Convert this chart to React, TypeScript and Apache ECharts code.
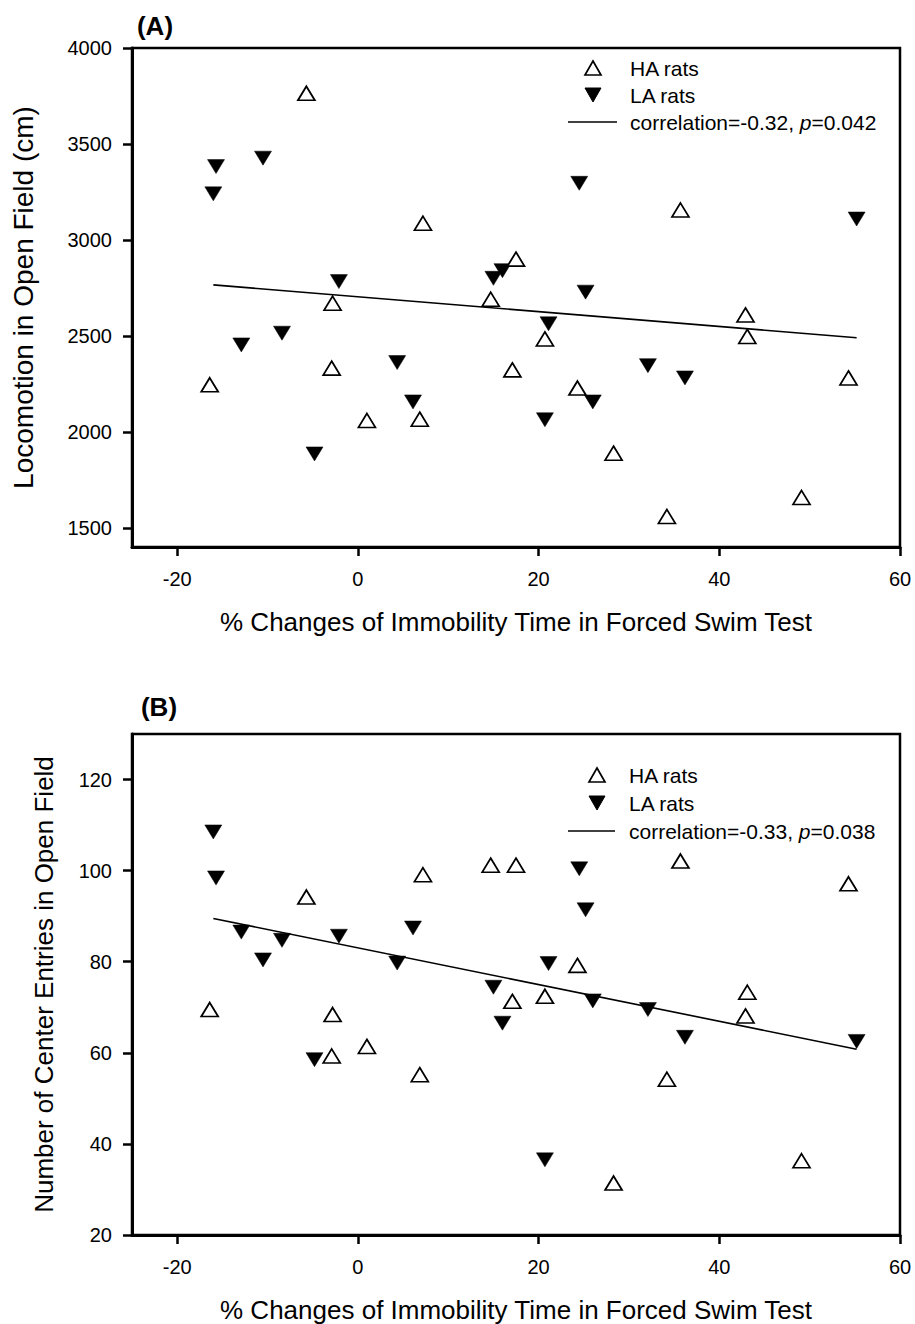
import React, { useEffect, useRef } from "react";
import * as echarts from "echarts";

// ---- Data ----
const haX = [-16.4, -5.7, -2.8, -2.9, 1.0, 6.85, 7.2, 14.7, 17.1, 17.5, 20.7, 24.3, 28.3, 34.2, 35.7, 42.9, 43.1, 49.1, 54.3];
const haLocomotion = [2245, 3764, 2670, 2332, 2059, 2066, 3087, 2691, 2323, 2900, 2484, 2228, 1889, 1559, 3156, 2609, 2497, 1658, 2281];
const haEntries = [69.5, 94.2, 68.4, 59.3, 61.4, 55.2, 99.1, 101.2, 71.3, 101.2, 72.4, 79.2, 31.4, 54.2, 102.1, 68.1, 73.3, 36.3, 97.1];

const laX = [-15.7, -16.0, -12.9, -10.5, -8.4, -4.8, -2.1, 4.35, 6.1, 15.0, 16.0, 20.7, 21.1, 24.5, 25.2, 26.0, 32.1, 36.2, 55.2];
const laLocomotion = [3382, 3240, 2453, 3426, 2514, 1885, 2783, 2361, 2156, 2800, 2840, 2063, 2563, 3295, 2728, 2156, 2345, 2281, 3109];
const laEntries = [98.4, 108.5, 86.5, 80.4, 84.7, 58.5, 85.6, 79.7, 87.4, 74.4, 66.5, 36.5, 79.6, 100.4, 91.4, 71.4, 69.5, 63.4, 62.5];

const fitX = [-16.0, 55.2];
const fitLocomotion = [2766, 2490];
const fitEntries = [89.5, 60.8];

const xTicks = [-20, 0, 20, 40, 60];
const yTicksA = [1500, 2000, 2500, 3000, 3500, 4000];
const yTicksB = [20, 40, 60, 80, 100, 120];

const xTitle = "% Changes of Immobility Time in Forced Swim Test";
const yTitleA = "Locomotion in Open Field (cm)";
const yTitleB = "Number of Center Entries in Open Field";
const legendHA = "HA rats";
const legendLA = "LA rats";
const corrA = "correlation=-0.32, {i|p}=0.042";
const corrB = "correlation=-0.33, {i|p}=0.038";

const FONT = "'Liberation Sans', Arial, Helvetica, sans-serif";

const zip = (xs: number[], ys: number[]) => xs.map((x, i) => [x, ys[i]]);

function xAxisCfg(gridIndex: number) {
  return {
    type: "value",
    gridIndex,
    min: -25,
    max: 60,
    name: xTitle,
    nameLocation: "middle",
    nameGap: 62,
    nameTextStyle: { fontFamily: FONT, fontSize: 26, color: "#000" },
    axisLine: { show: true, onZero: false, lineStyle: { color: "#000", width: 3 } },
    axisTick: { show: true, length: 9, inside: false, customValues: xTicks, lineStyle: { color: "#000", width: 2.5 } },
    axisLabel: { customValues: xTicks, margin: 22, fontFamily: FONT, fontSize: 20, color: "#000", formatter: (v: number) => String(v) },
    splitLine: { show: false },
  };
}

function yAxisCfg(gridIndex: number, min: number, max: number, ticks: number[], name: string, gap: number, nameSize: number) {
  return {
    type: "value",
    gridIndex,
    min,
    max,
    name,
    nameLocation: "middle",
    nameRotate: 90,
    nameGap: gap,
    nameTextStyle: { fontFamily: FONT, fontSize: nameSize, color: "#000" },
    axisLine: { show: true, onZero: false, lineStyle: { color: "#000", width: 3 } },
    axisTick: { show: true, length: 9, inside: false, customValues: ticks, lineStyle: { color: "#000", width: 2.5 } },
    axisLabel: { customValues: ticks, margin: 20, fontFamily: FONT, fontSize: 20, color: "#000", formatter: (v: number) => String(v) },
    splitLine: { show: false },
  };
}

function legendGroup(cx: number, tx: number, rows: number[], lineX0: number, lineX1: number, corr: string) {
  const font = `21px ${FONT}`;
  return [
    {
      type: "polygon",
      shape: { points: [[cx - 8, rows[0] + 7], [cx + 8, rows[0] + 7], [cx, rows[0] - 7]] },
      style: { fill: "#fff", stroke: "#000", lineWidth: 1.7 },
    },
    { type: "text", style: { text: legendHA, x: tx, y: rows[0], verticalAlign: "middle", font, fill: "#000" } },
    {
      type: "polygon",
      shape: { points: [[cx - 8, rows[1] - 7], [cx + 8, rows[1] - 7], [cx, rows[1] + 7]] },
      style: { fill: "#000", stroke: "#000", lineWidth: 1 },
    },
    { type: "text", style: { text: legendLA, x: tx, y: rows[1], verticalAlign: "middle", font, fill: "#000" } },
    {
      type: "line",
      shape: { x1: lineX0, y1: rows[2], x2: lineX1, y2: rows[2] },
      style: { stroke: "#000", lineWidth: 1.5 },
    },
    {
      type: "text",
      style: {
        text: corr,
        x: tx,
        y: rows[2],
        verticalAlign: "middle",
        font,
        fill: "#000",
        rich: { i: { fontStyle: "italic", fontFamily: FONT, fontSize: 21, fill: "#000" } },
      },
    },
  ];
}

export default function App() {
  const ref = useRef<HTMLDivElement>(null);
  useEffect(() => {
    document.body.style.margin = "0";
    if (!ref.current) return;
    const chart = echarts.init(ref.current, null, { renderer: "svg" });
    const upTri = { symbol: "triangle", symbolSize: [17, 14], itemStyle: { color: "#fff", borderColor: "#000", borderWidth: 1.7, opacity: 1 } };
    const downTri = { symbol: "triangle", symbolRotate: 180, symbolSize: [17, 14], itemStyle: { color: "#000", borderColor: "#000", borderWidth: 0.5, opacity: 1 } };
    const fitStyle = { symbol: "none", lineStyle: { color: "#000", width: 1.6 }, z: 1 };
    chart.setOption({
      animation: false,
      backgroundColor: "#fff",
      textStyle: { fontFamily: FONT },
      grid: [
        { left: 132, top: 48, width: 768, height: 499, show: true, borderColor: "#000", borderWidth: 2.5, backgroundColor: "transparent" },
        { left: 132, top: 734, width: 768, height: 501, show: true, borderColor: "#000", borderWidth: 2.5, backgroundColor: "transparent" },
      ],
      xAxis: [xAxisCfg(0), xAxisCfg(1)],
      yAxis: [
        yAxisCfg(0, 1400, 4000, yTicksA, yTitleA, 95, 28),
        yAxisCfg(1, 20, 130, yTicksB, yTitleB, 75, 26),
      ],
      series: [
        { type: "line", name: "fitA", xAxisIndex: 0, yAxisIndex: 0, data: zip(fitX, fitLocomotion), ...fitStyle },
        { type: "scatter", name: legendHA, xAxisIndex: 0, yAxisIndex: 0, data: zip(haX, haLocomotion), ...upTri, z: 3 },
        { type: "scatter", name: legendLA, xAxisIndex: 0, yAxisIndex: 0, data: zip(laX, laLocomotion), ...downTri, z: 2 },
        { type: "line", name: "fitB", xAxisIndex: 1, yAxisIndex: 1, data: zip(fitX, fitEntries), ...fitStyle },
        { type: "scatter", name: legendHA, xAxisIndex: 1, yAxisIndex: 1, data: zip(haX, haEntries), ...upTri, z: 3 },
        { type: "scatter", name: legendLA, xAxisIndex: 1, yAxisIndex: 1, data: zip(laX, laEntries), ...downTri, z: 2 },
      ],
      graphic: [
        { type: "text", style: { text: "(A)", x: 155, y: 26, align: "center", verticalAlign: "middle", font: `bold 26px ${FONT}`, fill: "#000" } },
        { type: "text", style: { text: "(B)", x: 159, y: 707, align: "center", verticalAlign: "middle", font: `bold 26px ${FONT}`, fill: "#000" } },
        ...legendGroup(593, 630, [68, 95, 122], 568, 617, corrA),
        ...legendGroup(597, 629, [775, 803, 831], 568, 615, corrB),
      ],
    });
    return () => chart.dispose();
  }, []);
  return <div ref={ref} style={{ width: 915, height: 1324 }} />;
}
